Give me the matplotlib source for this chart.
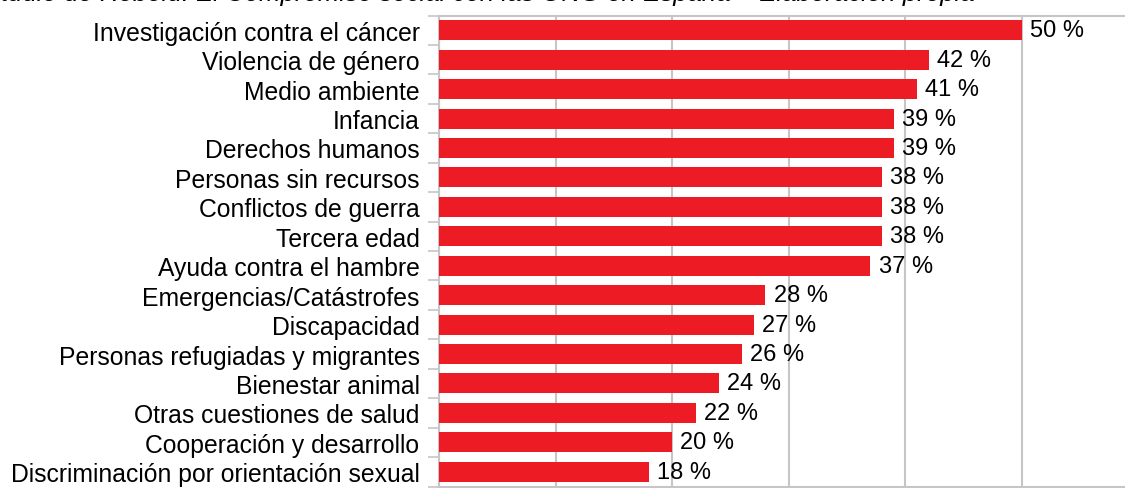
import matplotlib
matplotlib.use("Agg")
import matplotlib.pyplot as plt
import numpy as np

plt.rcParams['font.family'] = ['Liberation Sans', 'DejaVu Sans']

categories = [
    "Investigación contra el cáncer",
    "Violencia de género",
    "Medio ambiente",
    "Infancia",
    "Derechos humanos",
    "Personas sin recursos",
    "Conflictos de guerra",
    "Tercera edad",
    "Ayuda contra el hambre",
    "Emergencias/Catástrofes",
    "Discapacidad",
    "Personas refugiadas y migrantes",
    "Bienestar animal",
    "Otras cuestiones de salud",
    "Cooperación y desarrollo",
    "Discriminación por orientación sexual",
]
values = [50, 42, 41, 39, 39, 38, 38, 38, 37, 28, 27, 26, 24, 22, 20, 18]
title = "Estudio de Rebold: El Compromiso social con las ONG en España – Elaboración propia"

W, H = 1125, 489
fig = plt.figure(figsize=(W / 100, H / 100), dpi=100)
ax = fig.add_axes([439 / W, 1 - 487.5 / H, 699.6 / W, (487.5 - 16.5) / H])

grid_col = "#c6c6c6"
bar_col = "#ed1c24"
txt_col = "#000000"

y = np.arange(len(categories))
ax.barh(y, values, height=0.68, color=bar_col, zorder=3)
for yi, v in zip(y, values):
    ax.text(v + 0.7, yi, f"{v} %", va="center", ha="left", fontsize=17, color=txt_col, zorder=4)

ax.set_ylim(len(categories) - 0.5, -0.5)
ax.set_xlim(0, 60)
ax.set_yticks(y)
ax.set_yticklabels(categories, fontsize=17.85, color=txt_col)
ax.set_yticks(np.arange(len(categories) + 1) - 0.5, minor=True)
ax.tick_params(axis="y", which="major", length=0, pad=14)
ax.tick_params(axis="y", which="minor", length=8, width=1.2, color=grid_col)
ax.set_xticks(np.arange(0, 61, 10))
ax.tick_params(axis="x", length=0, labelbottom=False)
ax.grid(axis="x", color=grid_col, linewidth=1.5, zorder=0)
for s in ax.spines.values():
    s.set_color(grid_col)
    s.set_linewidth(1.5)

fig.text(975 / W, 1 - 1.0 / H, title, ha="right", va="baseline",
         fontsize=18.5, style="italic", color=txt_col)

fig.savefig("out.png", dpi=100)
